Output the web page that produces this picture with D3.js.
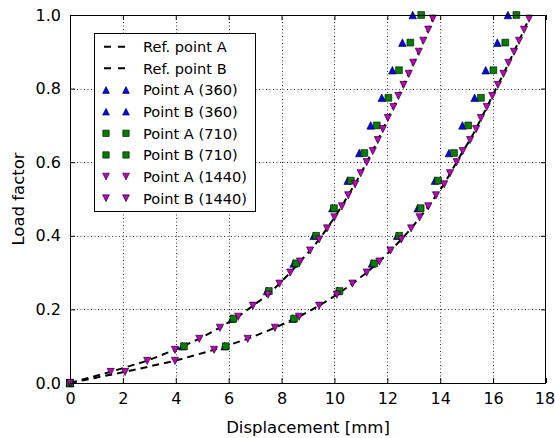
<!DOCTYPE html>
<html>
<head>
<meta charset="utf-8">
<script src="https://cdn.jsdelivr.net/npm/d3@7/dist/d3.min.js"></script>
<style>
  html, body { margin: 0; padding: 0; background: #fff; }
  svg { display: block; font-family: "DejaVu Sans", sans-serif; }
</style>
</head>
<body>
<svg id="chart" width="555" height="438"></svg>
<script>
// Reference (analytical) curves: [displacement mm, load factor]
const refA = [[0,0],[1.52,0.03],[2.9,0.06],[3.96,0.09],[4.88,0.12],[5.66,0.15],[6.35,0.18],[6.92,0.21],[7.48,0.24],[7.92,0.27],[8.33,0.30],[8.70,0.33],[9.08,0.36],[9.42,0.39],[9.72,0.42],[10.0,0.45],[10.27,0.48],[10.52,0.51],[10.77,0.54],[11.0,0.57],[11.22,0.60],[11.44,0.63],[11.64,0.66],[11.83,0.69],[12.03,0.72],[12.23,0.75],[12.42,0.78],[12.62,0.81],[12.81,0.84],[12.99,0.87],[13.19,0.90],[13.37,0.93],[13.55,0.96],[13.78,1.0]];
const refB = [[0,0],[2.06,0.03],[3.95,0.06],[5.44,0.09],[6.72,0.12],[7.75,0.15],[8.66,0.18],[9.42,0.21],[10.09,0.24],[10.68,0.27],[11.22,0.30],[11.70,0.33],[12.12,0.36],[12.53,0.39],[12.90,0.42],[13.23,0.45],[13.55,0.48],[13.85,0.51],[14.14,0.54],[14.38,0.57],[14.62,0.60],[14.86,0.63],[15.12,0.66],[15.35,0.69],[15.55,0.72],[15.77,0.75],[15.97,0.78],[16.18,0.81],[16.39,0.84],[16.59,0.87],[16.79,0.90],[16.98,0.93],[17.17,0.96],[17.42,1.0]];

// Load steps for the 360 and 710 runs
const loadCoarse = [0, 0.1, 0.175, 0.25, 0.325, 0.4, 0.475, 0.55, 0.625, 0.7, 0.775, 0.85, 0.925, 1.0];
const dispA360 = [0, 4.25, 6.12, 7.45, 8.46, 9.22, 9.92, 10.50, 10.94, 11.37, 11.79, 12.19, 12.57, 12.96];
const dispB360 = [0, 5.85, 8.42, 10.12, 11.42, 12.37, 13.15, 13.80, 14.33, 14.84, 15.30, 15.72, 16.16, 16.56];
const dispA710 = [0, 4.31, 6.18, 7.52, 8.55, 9.31, 9.98, 10.62, 11.13, 11.60, 12.04, 12.44, 12.87, 13.28];
const dispB710 = [0, 5.89, 8.47, 10.19, 11.50, 12.45, 13.26, 13.92, 14.52, 15.06, 15.54, 16.01, 16.46, 16.88];

// Load steps for the 1440 run
const loadFine = [0, 0.03, 0.06, 0.09, 0.12, 0.15, 0.18, 0.21, 0.24, 0.27, 0.30, 0.33, 0.36, 0.39, 0.42, 0.45, 0.48, 0.51, 0.54, 0.57, 0.60, 0.63, 0.66, 0.69, 0.72, 0.75, 0.78, 0.81, 0.84, 0.87, 0.90, 0.93, 0.96, 0.99];
const dispA1440 = [0, 1.54, 2.92, 3.97, 4.89, 5.67, 6.36, 6.92, 7.49, 7.92, 8.33, 8.70, 9.08, 9.42, 9.72, 10.0, 10.28, 10.52, 10.78, 10.99, 11.22, 11.45, 11.64, 11.83, 12.02, 12.23, 12.42, 12.61, 12.81, 12.98, 13.19, 13.36, 13.55, 13.72];
const dispB1440 = [0, 2.08, 3.97, 5.45, 6.72, 7.75, 8.66, 9.42, 10.09, 10.68, 11.22, 11.70, 12.12, 12.53, 12.90, 13.22, 13.55, 13.84, 14.15, 14.37, 14.62, 14.85, 15.13, 15.36, 15.54, 15.76, 15.97, 16.18, 16.39, 16.58, 16.79, 16.98, 17.17, 17.36];

const xTicks = [0, 2, 4, 6, 8, 10, 12, 14, 16, 18];
const yTicks = [0, 0.2, 0.4, 0.6, 0.8, 1.0];
const legendLabels = ["Ref. point A", "Ref. point B", "Point A (360)", "Point B (360)", "Point A (710)", "Point B (710)", "Point A (1440)", "Point B (1440)"];

const svg = d3.select("#chart");
const L = 70, R = 546, T = 15, B = 383;
const x = d3.scaleLinear().domain([0, 18]).range([L, R]);
const y = d3.scaleLinear().domain([0, 1]).range([B, T]);

const BLUE = "#0000ff", GREEN = "#008000", MAGENTA = "#bf00bf";

// grid
const grid = svg.append("g");
grid.selectAll("line.gx").data(xTicks.slice(1, -1)).join("line")
  .attr("x1", d => Math.round(x(d)) + 0.5).attr("x2", d => Math.round(x(d)) + 0.5)
  .attr("y1", T).attr("y2", B)
  .attr("stroke", "#000").attr("stroke-width", 0.8).attr("stroke-dasharray", "1,2.5");
grid.selectAll("line.gy").data(yTicks.slice(1, -1)).join("line")
  .attr("y1", d => Math.round(y(d)) + 0.5).attr("y2", d => Math.round(y(d)) + 0.5)
  .attr("x1", L).attr("x2", R)
  .attr("stroke", "#000").attr("stroke-width", 0.8).attr("stroke-dasharray", "1,2.5");

// axes with inward ticks
const xAxisB = d3.axisBottom(x).tickValues(xTicks).tickFormat(d3.format("d")).tickSizeInner(-5).tickSizeOuter(0).tickPadding(10);
const xAxisT = d3.axisTop(x).tickValues(xTicks).tickFormat("").tickSizeInner(-5).tickSizeOuter(0);
const yAxisL = d3.axisLeft(y).tickValues(yTicks).tickFormat(d3.format(".1f")).tickSizeInner(-5).tickSizeOuter(0).tickPadding(9);
const yAxisR = d3.axisRight(y).tickValues(yTicks).tickFormat("").tickSizeInner(-5).tickSizeOuter(0);

function styleAxis(g) {
  g.select(".domain").remove();
  g.selectAll("line").attr("stroke", "#000").attr("stroke-width", 1);
  g.selectAll("text").attr("fill", "#000").style("font-size", "16px").style("font-family", "DejaVu Sans");
}
const gxb = svg.append("g").attr("transform", `translate(0,${B})`).call(xAxisB).call(styleAxis);
// keep the last tick label inside the canvas
gxb.selectAll(".tick text").filter(d => d === 18).attr("dx", "-1.5");
svg.append("g").attr("transform", `translate(0,${T})`).call(xAxisT).call(styleAxis);
svg.append("g").attr("transform", `translate(${L},0)`).call(yAxisL).call(styleAxis);
svg.append("g").attr("transform", `translate(${R},0)`).call(yAxisR).call(styleAxis);

// reference curves
const line = d3.line().x(d => x(d[0])).y(d => y(d[1]));
const plot = svg.append("g");
[refA, refB].forEach(ref => {
  plot.append("path").attr("d", line(ref)).attr("fill", "none")
    .attr("stroke", "#000").attr("stroke-width", 2).attr("stroke-dasharray", "7,5");
});

// marker shapes
function markerPath(kind, s) {
  if (kind === "up") return `M0,${-s}L${s},${s}L${-s},${s}Z`;
  if (kind === "down") return `M0,${s}L${s},${-s}L${-s},${-s}Z`;
  return `M${-s},${-s}H${s}V${s}H${-s}Z`;
}
function drawPoints(disp, loads, kind, color, size) {
  plot.append("g").selectAll("path").data(disp.map((d, i) => [d, loads[i]])).join("path")
    .attr("transform", d => `translate(${x(d[0])},${y(d[1])})`)
    .attr("d", markerPath(kind, size))
    .attr("fill", color).attr("stroke", "#000").attr("stroke-width", 0.6);
}
drawPoints(dispA360, loadCoarse, "up", BLUE, 3.8);
drawPoints(dispB360, loadCoarse, "up", BLUE, 3.8);
drawPoints(dispA710, loadCoarse, "sq", GREEN, 3.4);
drawPoints(dispB710, loadCoarse, "sq", GREEN, 3.4);
drawPoints(dispA1440, loadFine, "down", MAGENTA, 3.6);
drawPoints(dispB1440, loadFine, "down", MAGENTA, 3.6);

// frame
svg.append("rect").attr("x", L + 0.5).attr("y", T + 0.5).attr("width", R - L - 1).attr("height", B - T)
  .attr("fill", "none").attr("stroke", "#000").attr("stroke-width", 1);

// axis titles
svg.append("text").attr("x", (L + R) / 2).attr("y", 433).attr("text-anchor", "middle")
  .style("font-size", "16.5px").text("Displacement [mm]");
svg.append("text").attr("transform", `translate(24,${(T + B) / 2}) rotate(-90)`).attr("text-anchor", "middle")
  .style("font-size", "16.5px").text("Load factor");

// legend
const leg = svg.append("g");
leg.append("rect").attr("x", 94.5).attr("y", 33.5).attr("width", 161).attr("height", 178)
  .attr("fill", "#fff").attr("stroke", "#000").attr("stroke-width", 1);
const legKinds = [
  {type: "line"}, {type: "line"},
  {type: "pt", kind: "up", color: BLUE}, {type: "pt", kind: "up", color: BLUE},
  {type: "pt", kind: "sq", color: GREEN}, {type: "pt", kind: "sq", color: GREEN},
  {type: "pt", kind: "down", color: MAGENTA}, {type: "pt", kind: "down", color: MAGENTA}
];
legendLabels.forEach((lab, i) => {
  const cy = 46.7 + i * 21.65;
  const k = legKinds[i];
  if (k.type === "line") {
    leg.append("line").attr("x1", 104).attr("x2", 126).attr("y1", cy).attr("y2", cy)
      .attr("stroke", "#000").attr("stroke-width", 2).attr("stroke-dasharray", "7,7");
  } else {
    [106, 126].forEach(mx => {
      leg.append("path").attr("transform", `translate(${mx},${cy})`)
        .attr("d", markerPath(k.kind, k.kind === "sq" ? 3.2 : 3.4))
        .attr("fill", k.color).attr("stroke", "#000").attr("stroke-width", 0.6);
    });
  }
  leg.append("text").attr("x", 143).attr("y", cy).attr("dy", "0.36em")
    .style("font-size", "14.6px").text(lab);
});
</script>
</body>
</html>
